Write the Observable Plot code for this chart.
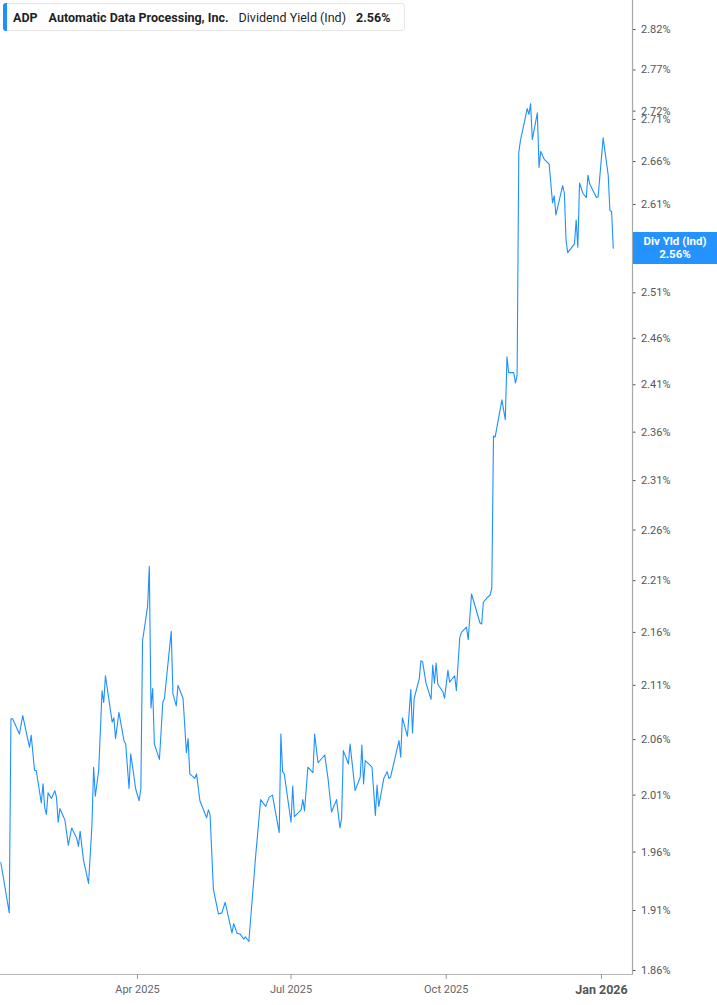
<!DOCTYPE html>
<html>
<head>
<meta charset="utf-8">
<script src="https://cdn.jsdelivr.net/npm/d3@7"></script>
<script src="https://cdn.jsdelivr.net/npm/@observablehq/plot@0.6"></script>
<style>
  html, body { margin: 0; padding: 0; background: #fff; }
  #wrap { position: relative; width: 717px; height: 1005px; font-family: Roboto, "Noto Sans", sans-serif; }
  #legend { position: absolute; left: 3px; top: 3px; width: 402px; height: 28px; box-sizing: border-box;
    border: 1px solid #e6e6e6; border-radius: 3px; background: #fff; display: flex; align-items: center;
    font-size: 12.5px; color: #1f1f1f; white-space: nowrap; }
  #legend .bar { position: absolute; left: -1px; top: -1px; bottom: -1px; width: 4px; background: #1e90ff; border-radius: 3px 0 0 3px; }
  #legend .t { font-weight: 700; margin-left: 9px; }
  #legend .n { font-weight: 700; margin-left: 11px; }
  #legend .m { font-weight: 400; margin-left: 10px; }
  #legend .v { font-weight: 700; margin-left: 10px; }
  #lastbox { position: absolute; left: 633px; width: 84px; height: 32px; background: rgba(30,144,255,0.97); color: #fff;
    font-size: 11.5px; font-weight: 700; text-align: center; line-height: 13px; box-sizing: border-box; padding-top: 3px; }
</style>
</head>
<body>
<div id="wrap"></div>
<script>
// ---- data ----
const ticker = "ADP";
const companyName = "Automatic Data Processing, Inc.";
const metricName = "Dividend Yield (Ind)";
const metricShort = "Div Yld (Ind)";

const dates = [
  "2025-01-10","2025-01-15","2025-01-16","2025-01-17","2025-01-21","2025-01-23","2025-01-27","2025-01-28","2025-01-30","2025-01-31",
  "2025-02-03","2025-02-04","2025-02-05","2025-02-06","2025-02-07","2025-02-09","2025-02-11","2025-02-12","2025-02-13","2025-02-14",
  "2025-02-17","2025-02-19","2025-02-21","2025-02-24","2025-02-25","2025-02-26","2025-02-28","2025-03-03","2025-03-05","2025-03-06",
  "2025-03-07","2025-03-09","2025-03-11","2025-03-12","2025-03-13","2025-03-17","2025-03-18","2025-03-19","2025-03-21","2025-03-24",
  "2025-03-25","2025-03-27","2025-03-28","2025-03-31","2025-04-02","2025-04-03","2025-04-04","2025-04-07","2025-04-08","2025-04-09",
  "2025-04-10","2025-04-11","2025-04-14","2025-04-16","2025-04-17","2025-04-21","2025-04-22","2025-04-24","2025-04-25","2025-04-28",
  "2025-04-30","2025-05-01","2025-05-02","2025-05-05","2025-05-06","2025-05-08","2025-05-12","2025-05-13","2025-05-14","2025-05-16",
  "2025-05-19","2025-05-21","2025-05-23","2025-05-27","2025-05-28","2025-05-30","2025-06-01","2025-06-03","2025-06-04","2025-06-06",
  "2025-06-10","2025-06-13","2025-06-16","2025-06-18","2025-06-20","2025-06-24","2025-06-25","2025-06-26","2025-06-27","2025-07-01",
  "2025-07-02","2025-07-03","2025-07-07","2025-07-08","2025-07-09","2025-07-11","2025-07-14","2025-07-15","2025-07-17","2025-07-21",
  "2025-07-23","2025-07-25","2025-07-28","2025-07-30","2025-07-31","2025-08-01","2025-08-04","2025-08-05","2025-08-08","2025-08-11",
  "2025-08-12","2025-08-13","2025-08-14","2025-08-18","2025-08-20","2025-08-21","2025-08-22","2025-08-25","2025-08-27","2025-08-28",
  "2025-08-29","2025-09-03","2025-09-04","2025-09-05","2025-09-08","2025-09-10","2025-09-11","2025-09-12","2025-09-15","2025-09-16",
  "2025-09-17","2025-09-19","2025-09-22","2025-09-23","2025-09-24","2025-09-25","2025-09-26","2025-09-29","2025-09-30","2025-10-02",
  "2025-10-03","2025-10-06","2025-10-07","2025-10-09","2025-10-10","2025-10-13","2025-10-14","2025-10-16","2025-10-21","2025-10-22",
  "2025-10-23","2025-10-25","2025-10-27","2025-10-28","2025-10-29","2025-10-30","2025-11-03","2025-11-05","2025-11-06","2025-11-07",
  "2025-11-10","2025-11-11","2025-11-12","2025-11-13","2025-11-14","2025-11-18","2025-11-19","2025-11-20","2025-11-21","2025-11-24",
  "2025-11-25","2025-11-26","2025-11-28","2025-12-01","2025-12-03","2025-12-04","2025-12-05","2025-12-09","2025-12-10","2025-12-11",
  "2025-12-12","2025-12-16","2025-12-17","2025-12-18","2025-12-19","2025-12-21","2025-12-23","2025-12-24","2025-12-25","2025-12-29",
  "2025-12-30","2026-01-02","2026-01-05","2026-01-06","2026-01-07","2026-01-08"
];

const yields = [
  1.951,1.908,2.079,2.079,2.065,2.082,2.053,2.064,2.032,2.032,
  2.003,2.020,1.999,1.993,2.012,2.007,2.014,2.008,1.986,1.998,
  1.988,1.966,1.981,1.972,1.965,1.978,1.953,1.933,1.983,2.035,
  2.009,2.032,2.105,2.094,2.119,2.076,2.080,2.061,2.085,2.059,
  2.056,2.016,2.047,2.015,2.005,2.016,2.152,2.185,2.224,2.089,
  2.107,2.056,2.042,2.094,2.098,2.161,2.102,2.091,2.110,2.098,
  2.048,2.061,2.029,2.025,2.029,2.005,1.990,1.997,1.993,1.928,
  1.907,1.908,1.917,1.891,1.899,1.891,1.890,1.886,1.888,1.884,
  1.956,2.006,2.000,2.008,2.010,1.977,2.065,2.031,2.029,1.986,
  2.018,1.991,1.997,2.006,1.996,2.035,2.030,2.065,2.039,2.046,
  2.024,1.995,2.006,1.981,1.990,2.050,2.038,2.056,2.014,2.026,
  2.055,2.020,2.041,2.035,1.992,2.019,2.000,2.025,2.031,2.025,
  2.026,2.059,2.044,2.080,2.063,2.106,2.066,2.098,2.116,2.133,
  2.132,2.112,2.097,2.129,2.112,2.131,2.111,2.104,2.098,2.124,
  2.113,2.119,2.105,2.155,2.160,2.165,2.153,2.197,2.169,2.168,
  2.189,2.193,2.196,2.203,2.356,2.355,2.394,2.373,2.440,2.423,
  2.423,2.412,2.420,2.671,2.685,2.723,2.716,2.729,2.686,2.718,
  2.653,2.672,2.663,2.657,2.612,2.620,2.598,2.632,2.623,2.569,
  2.555,2.565,2.592,2.561,2.635,2.623,2.618,2.644,2.634,2.618,
  2.619,2.688,2.644,2.603,2.602,2.560
];

const yTicks = [1.86,1.91,1.96,2.01,2.06,2.11,2.16,2.21,2.26,2.31,2.36,2.41,2.46,2.51,2.56,2.61,2.66,2.71,2.72,2.77,2.82];
const xTickDates = ["2025-04-01","2025-07-01","2025-10-01"];
const xTickLabels = ["Apr 2025","Jul 2025","Oct 2025"];
const yearTickDates = ["2026-01-01"];
const yearTickLabels = ["Jan 2026"];
const xDomain = ["2025-01-09T19:30:00Z","2026-01-19T09:30:00Z"];
const yDomain = [1.86, 2.82];

// ---- build ----
const data = dates.map((d, i) => ({date: new Date(d), value: yields[i]}));
const xLabelMap = new Map(xTickDates.map((d, i) => [+new Date(d), xTickLabels[i]]));
const yearLabelMap = new Map(yearTickDates.map((d, i) => [+new Date(d), yearTickLabels[i]]));
const lineColor = "#1e90ff";

const chart = Plot.plot({
  width: 717,
  height: 1005,
  marginLeft: 0,
  marginRight: 85,
  marginTop: 0,
  marginBottom: 31,
  style: {fontFamily: "Roboto, 'Noto Sans', sans-serif", fontSize: "11px", background: "#fff", color: "#555"},
  x: {type: "utc", domain: xDomain.map(d => new Date(d)), label: null},
  y: {type: "log", domain: yDomain, range: [970, 29], label: null},
  marks: [
    Plot.frame({anchor: "right", stroke: "#a8a8a8", strokeWidth: 1.2}),
    Plot.frame({anchor: "bottom", stroke: "#b8b8b8", strokeWidth: 1.2}),
    Plot.axisY({anchor: "right", ticks: yTicks, tickSize: 2.5, tickPadding: 6, stroke: "#555", label: null,
      tickFormat: d => d.toFixed(2) + "%", fill: "#555", fontSize: 11}),
    Plot.axisX({ticks: xTickDates.map(d => new Date(d)), tickSize: 5, tickPadding: 6, stroke: "#999", label: null,
      tickFormat: d => xLabelMap.get(+d), fill: "#666", fontSize: 11}),
    Plot.axisX({ticks: yearTickDates.map(d => new Date(d)), tickSize: 5, tickPadding: 6, stroke: "#999", label: null,
      tickFormat: d => yearLabelMap.get(+d), fill: "#555", fontSize: 12.5, fontWeight: "bold"}),
    Plot.lineY(data, {x: "date", y: "value", stroke: lineColor, strokeWidth: 1.1})
  ]
});

const wrap = document.getElementById("wrap");
wrap.appendChild(chart);

// legend (overlay, top-left)
const legend = document.createElement("div");
legend.id = "legend";
legend.innerHTML = `<span class="bar"></span><span class="t"></span><span class="n"></span><span class="m"></span><span class="v"></span>`;
const lastValue = yields[yields.length - 1];
legend.querySelector(".t").textContent = ticker;
legend.querySelector(".n").textContent = companyName;
legend.querySelector(".m").textContent = metricName;
legend.querySelector(".v").textContent = lastValue.toFixed(2) + "%";
wrap.appendChild(legend);

// last value label on the right axis
const yLast = chart.scale("y").apply(lastValue);
const box = document.createElement("div");
box.id = "lastbox";
box.style.top = (yLast - 16) + "px";
box.innerHTML = `<div></div><div></div>`;
box.children[0].textContent = metricShort;
box.children[1].textContent = lastValue.toFixed(2) + "%";
wrap.appendChild(box);
</script>
</body>
</html>
